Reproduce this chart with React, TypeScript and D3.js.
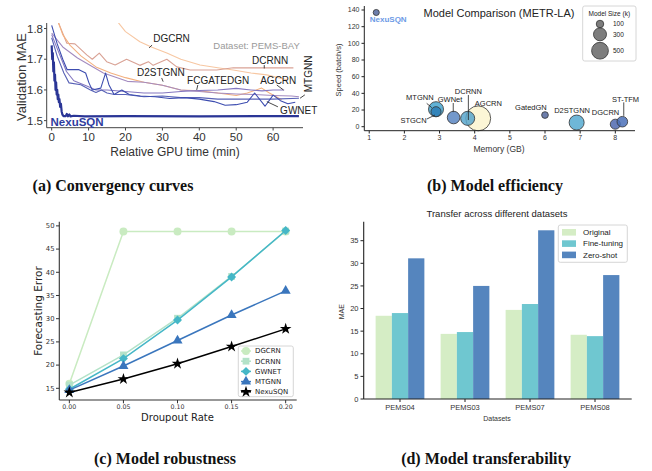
import React from "react";
import * as d3 from "d3";

// (a) convergence on PEMS-BAY: [relative GPU minutes, validation MAE]
const dgcrnCurve = [[18, 1.82], [20, 1.79], [23.9, 1.757], [27, 1.74], [31.2, 1.72], [35, 1.7], [40.2, 1.681], [45, 1.672], [49.2, 1.665], [54, 1.655], [58.3, 1.649], [63.7, 1.633]];
const dcrnnCurve = [[1.8, 1.82], [4.1, 1.752], [6.3, 1.75], [9.5, 1.714], [11, 1.7], [12.9, 1.72], [14.9, 1.692], [17.2, 1.681], [20.3, 1.7], [23.9, 1.68], [26.2, 1.692], [27.5, 1.68], [31.2, 1.7], [33.9, 1.675], [37.5, 1.665], [44.7, 1.665], [49.2, 1.672], [65.5, 1.672]];
const fcgatedgnCurve = [[1.5, 1.83], [3, 1.78], [5, 1.745], [8, 1.71], [12, 1.675], [16, 1.655], [20, 1.64], [25, 1.625], [30, 1.615], [35, 1.6], [40, 1.597], [45, 1.59], [50, 1.582], [53, 1.59], [56.9, 1.606], [59, 1.59], [62.3, 1.568]];
const d2stgnnCurve = [[0, 1.785], [3, 1.74], [7, 1.704], [14, 1.655], [20.5, 1.628], [25, 1.625], [30, 1.615], [35, 1.6], [40, 1.595], [45, 1.59], [50, 1.587], [55, 1.585], [60, 1.582], [65, 1.58], [67, 1.578]];
const agcrnCurve = [[0, 1.78], [2, 1.72], [4, 1.66], [6, 1.63], [8, 1.62], [10, 1.61], [12, 1.6], [15, 1.6], [20, 1.595], [25, 1.59], [30, 1.59], [35, 1.595], [40, 1.598], [45, 1.6], [50, 1.605], [54, 1.6], [57, 1.597], [60, 1.6], [63, 1.6]];
const mtgnnCurve = [[0, 1.77], [1.5, 1.71], [3.3, 1.655], [4.7, 1.623], [7.9, 1.617], [10.5, 1.6], [12, 1.592], [13.5, 1.6], [15, 1.59], [17, 1.585], [20, 1.585], [25, 1.578], [30, 1.58], [35, 1.575], [40, 1.575], [45, 1.57], [50, 1.57], [55, 1.57], [60, 1.57], [67, 1.573]];
const gwnetCurve = [[0, 1.81], [1.5, 1.75], [3, 1.7], [4.2, 1.666], [7.4, 1.666], [9.2, 1.655], [10.1, 1.623], [11, 1.6], [13.3, 1.606], [14.6, 1.655], [15.5, 1.617], [16.9, 1.585], [19, 1.6], [21, 1.585], [24, 1.58], [28, 1.578], [32, 1.572], [36, 1.575], [40, 1.57], [44, 1.562], [47, 1.55], [50, 1.552], [53, 1.56], [55, 1.59], [57.8, 1.547], [60, 1.583], [62, 1.565], [64, 1.555], [66, 1.56]];
const nexusqnCurve = [[0, 1.745], [0.15, 1.7], [0.3, 1.72], [0.45, 1.66], [0.6, 1.69], [0.75, 1.63], [0.9, 1.65], [1.05, 1.6], [1.2, 1.625], [1.35, 1.585], [1.5, 1.6], [1.65, 1.57], [1.8, 1.585], [1.95, 1.56], [2.1, 1.57], [2.3, 1.545], [2.5, 1.555], [2.7, 1.53], [2.9, 1.52], [3.2, 1.515], [3.8, 1.515], [4.1, 1.522], [4.4, 1.514], [4.8, 1.52], [5.1, 1.514], [6, 1.516], [9, 1.514], [20, 1.515], [40, 1.514], [67, 1.515]];
const convergenceModels = ["DGCRN", "DCRNN", "FCGATEDGN", "D2STGNN", "AGCRN", "MTGNN", "GWNET", "NexuSQN"];
const convergenceCurves = [dgcrnCurve, dcrnnCurve, fcgatedgnCurve, d2stgnnCurve, agcrnCurve, mtgnnCurve, gwnetCurve, nexusqnCurve];

// (b) efficiency on METR-LA
const bubbleModels = ["AGCRN", "NexuSQN", "MTGNN", "STGCN", "GWNet", "DCRNN", "GatedGN", "D2STGNN", "DGCRN", "ST-TFM"];
const bubbleMemory = [4.1, 1.2, 2.9, 2.9, 3.4, 3.8, 6.0, 6.9, 8.0, 8.2];
const bubbleSpeed = [10, 137, 21, 18, 11, 10, 14, 5, 3, 6];
const bubbleSizeK = [1100, 66, 400, 180, 280, 350, 80, 400, 180, 200];
const sizeLegend = [100, 300, 500];

// (c) robustness
const dropoutRates = [0, 0.05, 0.1, 0.15, 0.2];
const robustModels = ["DGCRN", "DCRNN", "GWNET", "MTGNN", "NexuSQN"];
const dgcrnRobust = [16.0, 48.8, 48.8, 48.8, 48.8];
const dcrnnRobust = [15.7, 22.2, 30.1, 39.1, 48.9];
const gwnetRobust = [14.8, 21.4, 29.7, 39.0, 49.0];
const mtgnnRobust = [14.6, 19.8, 25.3, 30.8, 36.0];
const nexusqnRobust = [14.1, 17.0, 20.3, 24.0, 27.8];
const robustSeries = [dgcrnRobust, dcrnnRobust, gwnetRobust, mtgnnRobust, nexusqnRobust];

// (d) transferability
const datasets = ["PEMS04", "PEMS03", "PEMS07", "PEMS08"];
const transferSettings = ["Original", "Fine-tuning", "Zero-shot"];
const originalMAE = [18.4, 14.4, 19.7, 14.2];
const fineTuneMAE = [19.0, 14.8, 21.0, 13.9];
const zeroShotMAE = [31.1, 25.0, 37.3, 27.4];
const transferSeries = [originalMAE, fineTuneMAE, zeroShotMAE];

const SANS = "Liberation Sans, Arial, sans-serif";
const DEJAVU = "DejaVu Sans, sans-serif";
const SERIF = "Liberation Serif, Times New Roman, serif";

const curveColors = ["#f7c7a2", "#d9a295", "#f3b07f", "#a48cc0", "#8477c0", "#5862b6", "#3d4db0", "#2a3596"];

function PanelA() {
  const x = d3.scaleLinear().domain([-1.35, 68.1]).range([46.7, 303]);
  const y = d3.scaleLinear().domain([1.477, 1.818]).range([127.7, 23]);
  const line = d3.line<number[]>().x((d) => x(d[0])).y((d) => y(d[1]));
  const ax = "#444";
  // label anchors in data units: [t, mae], leader from -> to
  const notes = [
    { text: "DGCRN", at: [27.5, 1.755], from: [27.2, 1.746], to: [26.4, 1.737] },
    { text: "DCRNN", at: [54.3, 1.686], from: [57.6, 1.681], to: [57.6, 1.670] },
    { text: "D2STGNN", at: [23.1, 1.644], from: [29.8, 1.639], to: [30.2, 1.627] },
    { text: "FCGATEDGN", at: [36.7, 1.62], from: [39.6, 1.616], to: [39.3, 1.6] },
    { text: "AGCRN", at: [56.5, 1.62], from: [61, 1.616], to: [62.8, 1.6] },
    { text: "GWNET", at: [61.9, 1.522], from: [61.3, 1.545], to: [58.3, 1.562] },
  ];
  return (
    <g>
      <defs>
        <clipPath id="clipA">
          <rect x={46.7} y={23} width={303 - 46.7} height={127.7 - 23} />
        </clipPath>
      </defs>
      <g clipPath="url(#clipA)">
        {convergenceCurves.map((c, i) => (
          <path key={convergenceModels[i]} d={line(c) || ""} fill="none" stroke={curveColors[i]}
            strokeWidth={i === 7 ? 2.2 : 1.1} strokeLinejoin="round" />
        ))}
      </g>
      <line x1={46.7} x2={46.7} y1={23} y2={127.7} stroke={ax} strokeWidth={1} />
      <line x1={46.7} x2={303} y1={127.7} y2={127.7} stroke={ax} strokeWidth={1} />
      {[1.5, 1.6, 1.7, 1.8].map((v) => (
        <g key={v}>
          <line x1={44} x2={46.7} y1={y(v)} y2={y(v)} stroke={ax} />
          <text x={43} y={y(v)} dy="0.36em" textAnchor="end" fontSize={11.5} fill="#333" fontFamily={SANS}>{v.toFixed(1)}</text>
        </g>
      ))}
      {[0, 10, 20, 30, 40, 50, 60].map((v) => (
        <g key={v}>
          <line x1={x(v)} x2={x(v)} y1={127.7} y2={130.5} stroke={ax} />
          <text x={x(v)} y={141} textAnchor="middle" fontSize={11.5} fill="#333" fontFamily={SANS}>{v}</text>
        </g>
      ))}
      <text x={175} y={156} textAnchor="middle" fontSize={12} fill="#333" fontFamily={SANS}>Relative GPU time (min)</text>
      <text transform="translate(25.5,77) rotate(-90)" textAnchor="middle" fontSize={13} fill="#333" fontFamily={SANS}>Validation MAE</text>
      <text x={x(43.8)} y={y(1.733)} fontSize={9.5} fill="#9a9a9a" fontFamily={SANS}>Dataset: PEMS-BAY</text>
      {notes.map((n) => (
        <g key={n.text}>
          <line x1={x(n.from[0])} y1={y(n.from[1])} x2={x(n.to[0])} y2={y(n.to[1])} stroke="#333" strokeWidth={0.9} />
          <text x={x(n.at[0])} y={y(n.at[1])} fontSize={10} fill="#222" fontFamily={SANS}>{n.text}</text>
        </g>
      ))}
      <line x1={x(68.6)} y1={y(1.584)} x2={x(67.3)} y2={y(1.573)} stroke="#333" strokeWidth={0.9} />
      <text transform={`translate(${x(70.6)},${y(1.652)}) rotate(-90)`} textAnchor="middle" fontSize={10} fill="#222" fontFamily={SANS}>MTGNN</text>
      <text x={x(-0.3)} y={y(1.483)} fontSize={11.5} fontWeight="bold" fill="#2f3c9e" fontFamily={SANS}>NexuSQN</text>
    </g>
  );
}

const bubbleColors = ["#fbf5cf", "#54679e", "#45a5cf", "#2a7bb5", "#5b86c2", "#58a6cc", "#54679e", "#56aad0", "#4f69af", "#4a70b8"];

function PanelB() {
  const x = d3.scaleLinear().domain([0.86, 8.56]).range([364.3, 635]);
  const y = d3.scaleLinear().domain([-4.8, 144.8]).range([130.7, 6]);
  const r = d3.scaleSqrt().domain([0, 500]).range([0, 8.4]);
  const ax = "#222";
  // label centres in data units [memory, speed]
  const notes = [
    { text: "MTGNN", at: [2.44, 34.7], from: [2.635, 28], to: [2.78, 22.8] },
    { text: "STGCN", at: [2.26, 8], from: [2.64, 9.2], to: [2.87, 14] },
    { text: "GWNet", at: [3.3, 33], from: [3.39, 28.4], to: [3.39, 17.5] },
    { text: "DCRNN", at: [3.82, 42], from: [3.82, 38], to: [3.82, 8] },
    { text: "AGCRN", at: [4.39, 28] },
    { text: "GatedGN", at: [5.6, 23.2] },
    { text: "D2STGNN", at: [6.77, 20] },
    { text: "DGCRN", at: [7.72, 17.2] },
    { text: "ST-TFM", at: [8.29, 33.2], from: [8.24, 29.2], to: [8.24, 13] },
  ];
  return (
    <g fontFamily={SANS}>
      {bubbleModels.map((m, i) => (
        <circle key={m} cx={x(bubbleMemory[i])} cy={y(bubbleSpeed[i])} r={r(bubbleSizeK[i])}
          fill={bubbleColors[i]} fillOpacity={0.85} stroke="#333" strokeWidth={0.8} />
      ))}
      <line x1={364.3} x2={364.3} y1={6} y2={130.7} stroke={ax} strokeWidth={1} />
      <line x1={364.3} x2={635} y1={130.7} y2={130.7} stroke={ax} strokeWidth={1} />
      {d3.range(0, 141, 20).map((v) => (
        <g key={v}>
          <line x1={361.5} x2={364.3} y1={y(v)} y2={y(v)} stroke={ax} />
          <text x={359.5} y={y(v)} dy="0.35em" textAnchor="end" fontSize={7} fill="#333">{v}</text>
        </g>
      ))}
      {d3.range(1, 9).map((v) => (
        <g key={v}>
          <line x1={x(v)} x2={x(v)} y1={130.7} y2={133.5} stroke={ax} />
          <text x={x(v)} y={139.5} textAnchor="middle" fontSize={7} fill="#333">{v}</text>
        </g>
      ))}
      <text x={499} y={152} textAnchor="middle" fontSize={8.5} fill="#333">Memory (GB)</text>
      <text transform="translate(340.5,70) rotate(-90)" textAnchor="middle" fontSize={7.5} fill="#333">Speed (batch/s)</text>
      <text x={499} y={17} textAnchor="middle" fontSize={11} fill="#222">Model Comparison (METR-LA)</text>
      {notes.map((n) => (
        <g key={n.text}>
          {n.from && <line x1={x(n.from[0])} y1={y(n.from[1])} x2={x(n.to![0])} y2={y(n.to![1])} stroke="#222" strokeWidth={0.8} />}
          <text x={x(n.at[0])} y={y(n.at[1])} dy="0.35em" textAnchor="middle" fontSize={7.5} fill="#222">{n.text}</text>
        </g>
      ))}
      <text x={x(1.54)} y={y(129)} dy="0.35em" textAnchor="middle" fontSize={8} fontWeight="bold" fill="#6d9be6">NexuSQN</text>
      <rect x={582.7} y={6} width={53.3} height={55} rx={2} fill="#fff" fillOpacity={0.85} stroke="#ccc" strokeWidth={0.8} />
      <text x={609.3} y={15.5} textAnchor="middle" fontSize={6.5} fill="#222">Model Size (k)</text>
      {sizeLegend.map((s, i) => {
        const cy = [24, 34.3, 50.7][i];
        return (
          <g key={s}>
            <circle cx={600} cy={cy} r={r(s)} fill="#666" fillOpacity={0.85} stroke="#333" strokeWidth={0.8} />
            <text x={613} y={cy} dy="0.35em" fontSize={6.5} fill="#222">{s}</text>
          </g>
        );
      })}
    </g>
  );
}

const robustColors = ["#c9ebc1", "#b3e2c8", "#45b7c7", "#3a76bd", "#000000"];
const robustSymbols = [d3.symbolCircle, d3.symbolSquare, d3.symbolSquare, d3.symbolTriangle, d3.symbolStar];
const robustSymbolSize = [50, 46, 40, 44, 42];

function PanelC() {
  const x = d3.scaleLinear().domain([-0.0093, 0.2102]).range([59.3, 296.7]);
  const y = d3.scaleLinear().domain([12.48, 50.9]).range([400, 221.7]);
  const line = d3.line<number>().x((_, i) => x(dropoutRates[i])).y((d) => y(d));
  const ax = "#333";
  const marker = (k: number, cx: number, cy: number, key: string) => (
    <path key={key} d={d3.symbol(robustSymbols[k], robustSymbolSize[k])() || ""} fill={robustColors[k]}
      transform={`translate(${cx},${cy})${k === 2 ? " rotate(45)" : ""}`} />
  );
  return (
    <g fontFamily={DEJAVU}>
      {robustSeries.map((s, k) => (
        <g key={robustModels[k]}>
          <path d={line(s) || ""} fill="none" stroke={robustColors[k]} strokeWidth={1.5} />
          {s.map((v, i) => marker(k, x(dropoutRates[i]), y(v), `${k}-${i}`))}
        </g>
      ))}
      <line x1={59.3} x2={59.3} y1={221.7} y2={400} stroke={ax} strokeWidth={1.1} />
      <line x1={59.3} x2={296.7} y1={400} y2={400} stroke={ax} strokeWidth={1.1} />
      {d3.range(15, 51, 5).map((v) => (
        <g key={v}>
          <line x1={56} x2={59.3} y1={y(v)} y2={y(v)} stroke={ax} />
          <text x={54.5} y={y(v)} dy="0.35em" textAnchor="end" fontSize={6.8} fill="#333">{v}</text>
        </g>
      ))}
      {dropoutRates.map((v) => (
        <g key={v}>
          <line x1={x(v)} x2={x(v)} y1={400} y2={403.3} stroke={ax} />
          <text x={x(v)} y={408.5} textAnchor="middle" fontSize={6.3} fill="#333">{v.toFixed(2)}</text>
        </g>
      ))}
      <text x={177.5} y={421} textAnchor="middle" fontSize={10} fill="#222">Droupout Rate</text>
      <text transform="translate(42,311) rotate(-90)" textAnchor="middle" fontSize={10.5} fill="#222">Forecasting Error</text>
      <rect x={238.3} y={346} width={55} height={50.7} rx={2} fill="#fff" fillOpacity={0.85} stroke="#ccc" strokeWidth={0.8} />
      {robustModels.map((m, k) => {
        const cy = 351 + k * 10.2;
        return (
          <g key={m}>
            <line x1={241} x2={251} y1={cy} y2={cy} stroke={robustColors[k]} strokeWidth={1.5} />
            {marker(k, 246, cy, `lg-${k}`)}
            <text x={255} y={cy} dy="0.35em" fontSize={7} fill="#222">{m}</text>
          </g>
        );
      })}
    </g>
  );
}

const transferColors = ["#d5edc5", "#6fc7d0", "#5585be"];

function PanelD() {
  const x = d3.scaleBand().domain(datasets).range([367.5, 627.5]);
  const sub = d3.scaleBand().domain(transferSettings).range([0, x.bandwidth() * 0.75]);
  const y = d3.scaleLinear().domain([0, 39.2]).range([399, 221.7]);
  const ax = "#222";
  const off = (x.bandwidth() - x.bandwidth() * 0.75) / 2;
  return (
    <g fontFamily={SANS}>
      {datasets.map((d, i) => (
        <g key={d}>
          {transferSeries.map((s, k) => (
            <rect key={k} x={(x(d) || 0) + off + (sub(transferSettings[k]) || 0)} y={y(s[i])}
              width={sub.bandwidth()} height={y(0) - y(s[i])} fill={transferColors[k]} />
          ))}
        </g>
      ))}
      <line x1={363.7} x2={363.7} y1={221.7} y2={399} stroke={ax} strokeWidth={1.1} />
      <line x1={363.7} x2={631.7} y1={399} y2={399} stroke={ax} strokeWidth={1.1} />
      {d3.range(0, 36, 5).map((v) => (
        <g key={v}>
          <line x1={360.5} x2={363.7} y1={y(v)} y2={y(v)} stroke={ax} />
          <text x={358.5} y={y(v)} dy="0.35em" textAnchor="end" fontSize={7.5} fill="#333">{v}</text>
        </g>
      ))}
      {datasets.map((d) => {
        const cx = (x(d) || 0) + x.bandwidth() / 2;
        return (
          <g key={d}>
            <line x1={cx} x2={cx} y1={399} y2={402} stroke={ax} />
            <text x={cx} y={409.5} textAnchor="middle" fontSize={7.5} fill="#333">{d}</text>
          </g>
        );
      })}
      <text x={497} y={421} textAnchor="middle" fontSize={7} fill="#333">Datasets</text>
      <text transform="translate(344,311.7) rotate(-90)" textAnchor="middle" fontSize={7} fill="#333">MAE</text>
      <text x={497} y={217} textAnchor="middle" fontSize={9.5} fill="#222">Transfer across different datasets</text>
      <rect x={558.3} y={225} width={69} height={37.3} rx={2} fill="#fff" fillOpacity={0.85} stroke="#ccc" strokeWidth={0.8} />
      {transferSettings.map((t, k) => {
        const cy = 232.3 + k * 11.3;
        return (
          <g key={t}>
            <rect x={562} y={cy - 3.3} width={14} height={6.6} fill={transferColors[k]} />
            <text x={583} y={cy} dy="0.35em" fontSize={8} fill="#222">{t}</text>
          </g>
        );
      })}
    </g>
  );
}

export default function App() {
  const captions = [
    { text: "(a) Convergency curves", x: 113, y: 191 },
    { text: "(b) Model efficiency", x: 495, y: 191 },
    { text: "(c) Model robustness", x: 165, y: 464 },
    { text: "(d) Model transferability", x: 486, y: 464 },
  ];
  return (
    <div style={{ position: "absolute", left: 0, top: 0 }}>
      <svg width={652} height={471} style={{ display: "block", background: "#fff" }}>
        <PanelA />
        <PanelB />
        <PanelC />
        <PanelD />
        {captions.map((c) => (
          <text key={c.text} x={c.x} y={c.y} textAnchor="middle" fontSize={16} fontWeight="bold" fill="#111" fontFamily={SERIF}>{c.text}</text>
        ))}
      </svg>
    </div>
  );
}
